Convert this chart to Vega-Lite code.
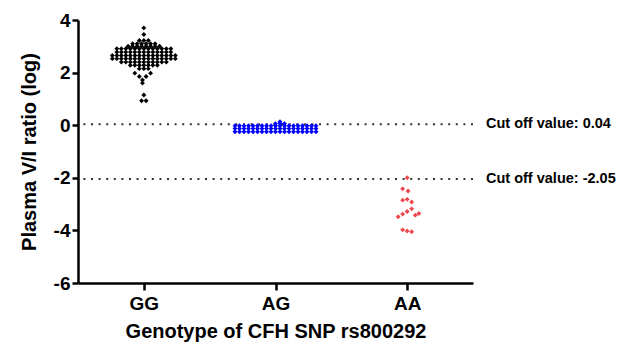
{
  "$schema": "https://vega.github.io/schema/vega-lite/v6.json",
  "width": 395,
  "height": 263,
  "autosize": {"type": "none"},
  "padding": {"left": 78, "top": 20, "right": 146, "bottom": 59},
  "config": {
    "view": {"stroke": null},
    "font": "Liberation Sans",
    "axis": {
      "domainColor": "black", "domainWidth": 2.5, "tickColor": "black", "tickWidth": 2.5,
      "labelColor": "black", "labelFont": "Liberation Sans", "labelFontWeight": "bold", "labelFontSize": 19,
      "titleColor": "black", "titleFont": "Liberation Sans", "titleFontWeight": "bold", "titleFontSize": 20,
      "grid": false
    }
  },
  "layer": [
    {
      "data": {"values": [
        {"v": 0.04, "label": "Cut off value: 0.04"},
        {"v": -2.05, "label": "Cut off value: -2.05"}
      ]},
      "layer": [
        {
          "mark": {"type": "rule", "strokeDash": [2, 5.6], "strokeWidth": 2, "color": "#333333"},
          "encoding": {"y": {"field": "v", "type": "quantitative"}}
        },
        {
          "mark": {"type": "text", "align": "left", "baseline": "middle", "dx": 13, "fontSize": 14.5, "fontWeight": "bold", "font": "Liberation Sans", "color": "black"},
          "encoding": {
            "x": {"value": "width"},
            "y": {"field": "v", "type": "quantitative"},
            "text": {"field": "label"}
          }
        }
      ]
    },
    {
      "data": {"values": [
        {"g":"GG","v":3.7,"c":0},
        {"g":"GG","v":3.45,"c":0},
        {"g":"GG","v":3.22,"c":-1},{"g":"GG","v":3.22,"c":0},{"g":"GG","v":3.22,"c":1},
        {"g":"GG","v":3.1,"c":-2.5},{"g":"GG","v":3.1,"c":-1.5},{"g":"GG","v":3.1,"c":-0.5},{"g":"GG","v":3.1,"c":0.5},{"g":"GG","v":3.1,"c":1.5},{"g":"GG","v":3.1,"c":2.5},
        {"g":"GG","v":3.0,"c":-3.5},{"g":"GG","v":3.0,"c":-2.5},{"g":"GG","v":3.0,"c":-1.5},{"g":"GG","v":3.0,"c":-0.5},{"g":"GG","v":3.0,"c":0.5},{"g":"GG","v":3.0,"c":1.5},{"g":"GG","v":3.0,"c":2.5},{"g":"GG","v":3.0,"c":3.5},
        {"g":"GG","v":2.91,"c":-6},{"g":"GG","v":2.91,"c":-5},{"g":"GG","v":2.91,"c":-4},{"g":"GG","v":2.91,"c":-3},{"g":"GG","v":2.91,"c":-2},{"g":"GG","v":2.91,"c":-1},{"g":"GG","v":2.91,"c":0},{"g":"GG","v":2.91,"c":1},{"g":"GG","v":2.91,"c":2},{"g":"GG","v":2.91,"c":3},{"g":"GG","v":2.91,"c":4},{"g":"GG","v":2.91,"c":5},{"g":"GG","v":2.91,"c":6},
        {"g":"GG","v":2.78,"c":-6},{"g":"GG","v":2.78,"c":-5},{"g":"GG","v":2.78,"c":-4},{"g":"GG","v":2.78,"c":-3},{"g":"GG","v":2.78,"c":-2},{"g":"GG","v":2.78,"c":-1},{"g":"GG","v":2.78,"c":0},{"g":"GG","v":2.78,"c":1},{"g":"GG","v":2.78,"c":2},{"g":"GG","v":2.78,"c":3},{"g":"GG","v":2.78,"c":4},{"g":"GG","v":2.78,"c":5},{"g":"GG","v":2.78,"c":6},
        {"g":"GG","v":2.65,"c":-7},{"g":"GG","v":2.65,"c":-6},{"g":"GG","v":2.65,"c":-5},{"g":"GG","v":2.65,"c":-4},{"g":"GG","v":2.65,"c":-3},{"g":"GG","v":2.65,"c":-2},{"g":"GG","v":2.65,"c":-1},{"g":"GG","v":2.65,"c":0},{"g":"GG","v":2.65,"c":1},{"g":"GG","v":2.65,"c":2},{"g":"GG","v":2.65,"c":3},{"g":"GG","v":2.65,"c":4},{"g":"GG","v":2.65,"c":5},{"g":"GG","v":2.65,"c":6},{"g":"GG","v":2.65,"c":7},
        {"g":"GG","v":2.53,"c":-7},{"g":"GG","v":2.53,"c":-6},{"g":"GG","v":2.53,"c":-5},{"g":"GG","v":2.53,"c":-4},{"g":"GG","v":2.53,"c":-3},{"g":"GG","v":2.53,"c":-2},{"g":"GG","v":2.53,"c":-1},{"g":"GG","v":2.53,"c":0},{"g":"GG","v":2.53,"c":1},{"g":"GG","v":2.53,"c":2},{"g":"GG","v":2.53,"c":3},{"g":"GG","v":2.53,"c":4},{"g":"GG","v":2.53,"c":5},{"g":"GG","v":2.53,"c":6},{"g":"GG","v":2.53,"c":7},
        {"g":"GG","v":2.4,"c":-5},{"g":"GG","v":2.4,"c":-4},{"g":"GG","v":2.4,"c":-3},{"g":"GG","v":2.4,"c":-2},{"g":"GG","v":2.4,"c":-1},{"g":"GG","v":2.4,"c":0},{"g":"GG","v":2.4,"c":1},{"g":"GG","v":2.4,"c":2},{"g":"GG","v":2.4,"c":3},{"g":"GG","v":2.4,"c":4},{"g":"GG","v":2.4,"c":5},
        {"g":"GG","v":2.28,"c":-3},{"g":"GG","v":2.28,"c":-2},{"g":"GG","v":2.28,"c":-1},{"g":"GG","v":2.28,"c":0},{"g":"GG","v":2.28,"c":1},{"g":"GG","v":2.28,"c":2},{"g":"GG","v":2.28,"c":3},
        {"g":"GG","v":2.15,"c":-1},{"g":"GG","v":2.15,"c":0},{"g":"GG","v":2.15,"c":1},
        {"g":"GG","v":1.98,"c":-2},{"g":"GG","v":1.98,"c":1.5},
        {"g":"GG","v":1.85,"c":-1},{"g":"GG","v":1.85,"c":0.5},
        {"g":"GG","v":1.72,"c":-0.3},
        {"g":"GG","v":1.6,"c":-0.3},
        {"g":"GG","v":1.15,"c":0},
        {"g":"GG","v":0.93,"c":-0.5},{"g":"GG","v":0.93,"c":0.5},
        {"g":"AG","v":0.13,"c":1},
        {"g":"AG","v":0.06,"c":0},{"g":"AG","v":0.06,"c":1},{"g":"AG","v":0.06,"c":2},
        {"g":"AG","v":-0.02,"c":-9},{"g":"AG","v":-0.02,"c":-8},{"g":"AG","v":-0.02,"c":-7},{"g":"AG","v":-0.02,"c":-6},{"g":"AG","v":-0.02,"c":-5},{"g":"AG","v":-0.02,"c":-4},{"g":"AG","v":-0.02,"c":-3},{"g":"AG","v":-0.02,"c":-2},{"g":"AG","v":-0.02,"c":-1},{"g":"AG","v":-0.02,"c":0},{"g":"AG","v":-0.02,"c":1},{"g":"AG","v":-0.02,"c":2},{"g":"AG","v":-0.02,"c":3},{"g":"AG","v":-0.02,"c":4},{"g":"AG","v":-0.02,"c":5},{"g":"AG","v":-0.02,"c":6},{"g":"AG","v":-0.02,"c":7},{"g":"AG","v":-0.02,"c":8},{"g":"AG","v":-0.02,"c":9},
        {"g":"AG","v":-0.13,"c":-9},{"g":"AG","v":-0.13,"c":-8},{"g":"AG","v":-0.13,"c":-7},{"g":"AG","v":-0.13,"c":-6},{"g":"AG","v":-0.13,"c":-5},{"g":"AG","v":-0.13,"c":-4},{"g":"AG","v":-0.13,"c":-3},{"g":"AG","v":-0.13,"c":-2},{"g":"AG","v":-0.13,"c":-1},{"g":"AG","v":-0.13,"c":0},{"g":"AG","v":-0.13,"c":1},{"g":"AG","v":-0.13,"c":2},{"g":"AG","v":-0.13,"c":3},{"g":"AG","v":-0.13,"c":4},{"g":"AG","v":-0.13,"c":5},{"g":"AG","v":-0.13,"c":6},{"g":"AG","v":-0.13,"c":7},{"g":"AG","v":-0.13,"c":8},{"g":"AG","v":-0.13,"c":9},
        {"g":"AG","v":-0.25,"c":-9},{"g":"AG","v":-0.25,"c":-8},{"g":"AG","v":-0.25,"c":-7},{"g":"AG","v":-0.25,"c":-6},{"g":"AG","v":-0.25,"c":-5},{"g":"AG","v":-0.25,"c":-4},{"g":"AG","v":-0.25,"c":-3},{"g":"AG","v":-0.25,"c":-2},{"g":"AG","v":-0.25,"c":-1},{"g":"AG","v":-0.25,"c":0},{"g":"AG","v":-0.25,"c":1},{"g":"AG","v":-0.25,"c":2},{"g":"AG","v":-0.25,"c":3},{"g":"AG","v":-0.25,"c":4},{"g":"AG","v":-0.25,"c":5},{"g":"AG","v":-0.25,"c":6},{"g":"AG","v":-0.25,"c":7},{"g":"AG","v":-0.25,"c":8},{"g":"AG","v":-0.25,"c":9},
        {"g":"AA","v":-2.0,"c":0},
        {"g":"AA","v":-2.42,"c":-1},{"g":"AA","v":-2.5,"c":0.2},
        {"g":"AA","v":-2.85,"c":-1},{"g":"AA","v":-2.82,"c":0},{"g":"AA","v":-2.92,"c":1},
        {"g":"AA","v":-3.18,"c":1},{"g":"AA","v":-3.28,"c":0},{"g":"AA","v":-3.38,"c":-1},{"g":"AA","v":-3.42,"c":1.8},{"g":"AA","v":-3.48,"c":-2},{"g":"AA","v":-3.36,"c":2.6},
        {"g":"AA","v":-3.98,"c":-1},{"g":"AA","v":-4.02,"c":0},{"g":"AA","v":-4.05,"c":1}
      ]},
      "mark": {"type": "point", "shape": "diamond", "filled": true, "size": 24, "opacity": 1},
      "encoding": {
        "x": {
          "field": "g", "type": "nominal",
          "scale": {"type": "point", "domain": ["GG", "AG", "AA"], "padding": 0.5},
          "axis": {"title": "Genotype of CFH SNP rs800292", "labelAngle": 0, "tickSize": 7, "labelPadding": 4, "titlePadding": 8}
        },
        "xOffset": {"field": "c", "type": "quantitative", "scale": {"domain": [-10, 10], "range": [-45, 45]}},
        "y": {
          "field": "v", "type": "quantitative",
          "scale": {"domain": [-6, 4], "nice": false, "zero": false},
          "axis": {"title": "Plasma V/I ratio (log)", "values": [-6, -4, -2, 0, 2, 4], "tickSize": 6, "labelPadding": 2, "titlePadding": 14, "labelExpr": "'' + datum.value"}
        },
        "color": {
          "field": "g", "type": "nominal",
          "scale": {"domain": ["GG", "AG", "AA"], "range": ["#000000", "#0000FF", "#F0474E"]},
          "legend": null
        }
      }
    }
  ]
}
